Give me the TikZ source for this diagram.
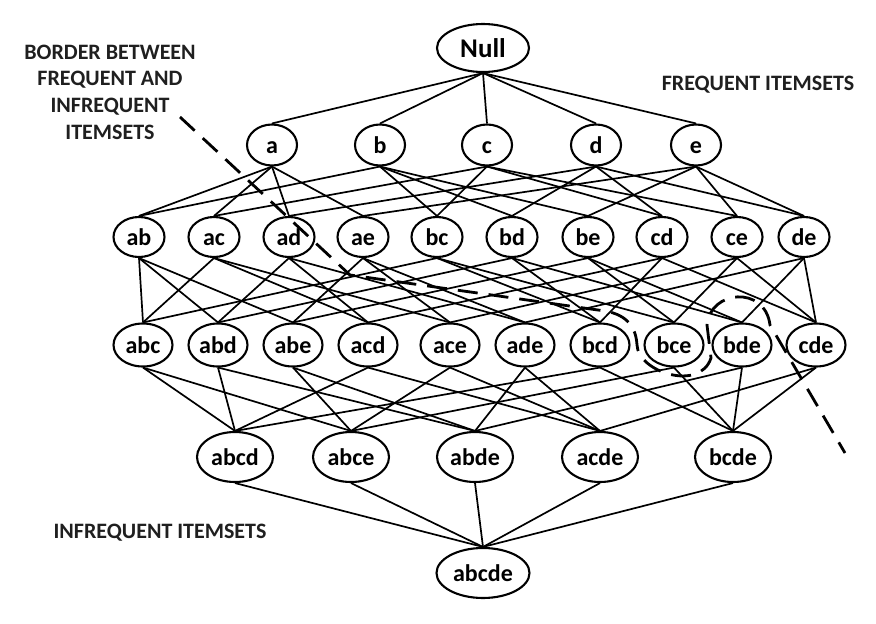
\documentclass[tikz,border=0pt]{standalone}
\usepackage{fontspec}
\setmainfont{Carlito}
\usetikzlibrary{shapes.geometric}
\begin{document}
\begin{tikzpicture}[x=1pt,y=-1pt,
  itm/.style={ellipse, draw, line width=2.1pt, inner sep=0pt, text height=17pt, text depth=0pt, font=\fontsize{24}{24}\selectfont\bfseries},
  s1/.style={itm, minimum width=50pt, minimum height=41pt},
  s2/.style={itm, minimum width=51pt, minimum height=40pt},
  s3/.style={itm, minimum width=59pt, minimum height=43pt},
  s4/.style={itm, minimum width=76pt, minimum height=50pt},
  s5/.style={itm, minimum width=93pt, minimum height=50pt},
  lbl/.style={font=\fontsize{22}{26.7}\selectfont\bfseries, text=black!88, align=center, inner sep=0pt},
  edge/.style={line width=1.7pt},
  border/.style={line width=2.8pt, dash pattern=on 20pt off 11pt}]
\useasboundingbox (0,0) rectangle (876,624);
% nodes
\node[s5, minimum width=92pt, minimum height=48pt, text height=19pt, font=\fontsize{27}{27}\selectfont\bfseries] (Null) at (483,48) {Null};
\node[s1] (a) at (272,145) {a};
\node[s1] (b) at (380,145) {b};
\node[s1] (c) at (487,145) {c};
\node[s1] (d) at (596,145) {d};
\node[s1] (e) at (696,145) {e};
\node[s2] (ab) at (139,237) {ab};
\node[s2] (ac) at (214,237) {ac};
\node[s2] (ad) at (289,237) {ad};
\node[s2] (ae) at (363,237) {ae};
\node[s2] (bc) at (437,237) {bc};
\node[s2] (bd) at (512,237) {bd};
\node[s2] (be) at (588,237) {be};
\node[s2] (cd) at (662,237) {cd};
\node[s2] (ce) at (737,237) {ce};
\node[s2] (de) at (804,237) {de};
\node[s3] (abc) at (143,345) {abc};
\node[s3] (abd) at (218,345) {abd};
\node[s3] (abe) at (293,345) {abe};
\node[s3] (acd) at (368,345) {acd};
\node[s3] (ace) at (450,345) {ace};
\node[s3] (ade) at (525,345) {ade};
\node[s3] (bcd) at (600,345) {bcd};
\node[s3] (bce) at (674,345) {bce};
\node[s3] (bde) at (742,345) {bde};
\node[s3] (cde) at (816,345) {cde};
\node[s4] (abcd) at (235,457) {abcd};
\node[s4] (abce) at (351,457) {abce};
\node[s4] (abde) at (475,457) {abde};
\node[s4] (acde) at (600,457) {acde};
\node[s4] (bcde) at (733,457) {bcde};
\node[s5] (abcde) at (483,573) {abcde};
% edges
\foreach \u/\l in {Null/a,Null/b,Null/c,Null/d,Null/e,
  a/ab,b/ab,a/ac,c/ac,a/ad,d/ad,a/ae,e/ae,b/bc,c/bc,b/bd,d/bd,b/be,e/be,c/cd,d/cd,c/ce,e/ce,d/de,e/de,
  ab/abc,ac/abc,bc/abc,ab/abd,ad/abd,bd/abd,ab/abe,ae/abe,be/abe,ac/acd,ad/acd,cd/acd,
  ac/ace,ae/ace,ce/ace,ad/ade,ae/ade,de/ade,bc/bcd,bd/bcd,cd/bcd,bc/bce,be/bce,ce/bce,
  bd/bde,be/bde,de/bde,cd/cde,ce/cde,de/cde,
  abc/abcd,abd/abcd,acd/abcd,bcd/abcd,abc/abce,abe/abce,ace/abce,bce/abce,
  abd/abde,abe/abde,ade/abde,bde/abde,acd/acde,ace/acde,ade/acde,cde/acde,
  bcd/bcde,bce/bcde,bde/bcde,cde/bcde,
  abcd/abcde,abce/abcde,abde/abcde,acde/abcde,bcde/abcde}
  \draw[edge] (\u.south) -- (\l.north);
% labels
\node[lbl] (tborder) at (110,92) {BORDER BETWEEN\\FREQUENT AND\\INFREQUENT\\ITEMSETS};
\node[lbl] (tfreq) at (758,85) {FREQUENT ITEMSETS};
\node[lbl] (tinfreq) at (160,533) {INFREQUENT ITEMSETS};
% border
\draw[border] (180,117) -- (350,275) -- (605,311)
  .. controls (628,315) and (636,328) .. (637,345)
  .. controls (638,372) and (700,392) .. (711,358)
  -- (707,325)
  .. controls (710,290) and (765,285) .. (770,325)
  -- (845,453);
\end{tikzpicture}
\end{document}
